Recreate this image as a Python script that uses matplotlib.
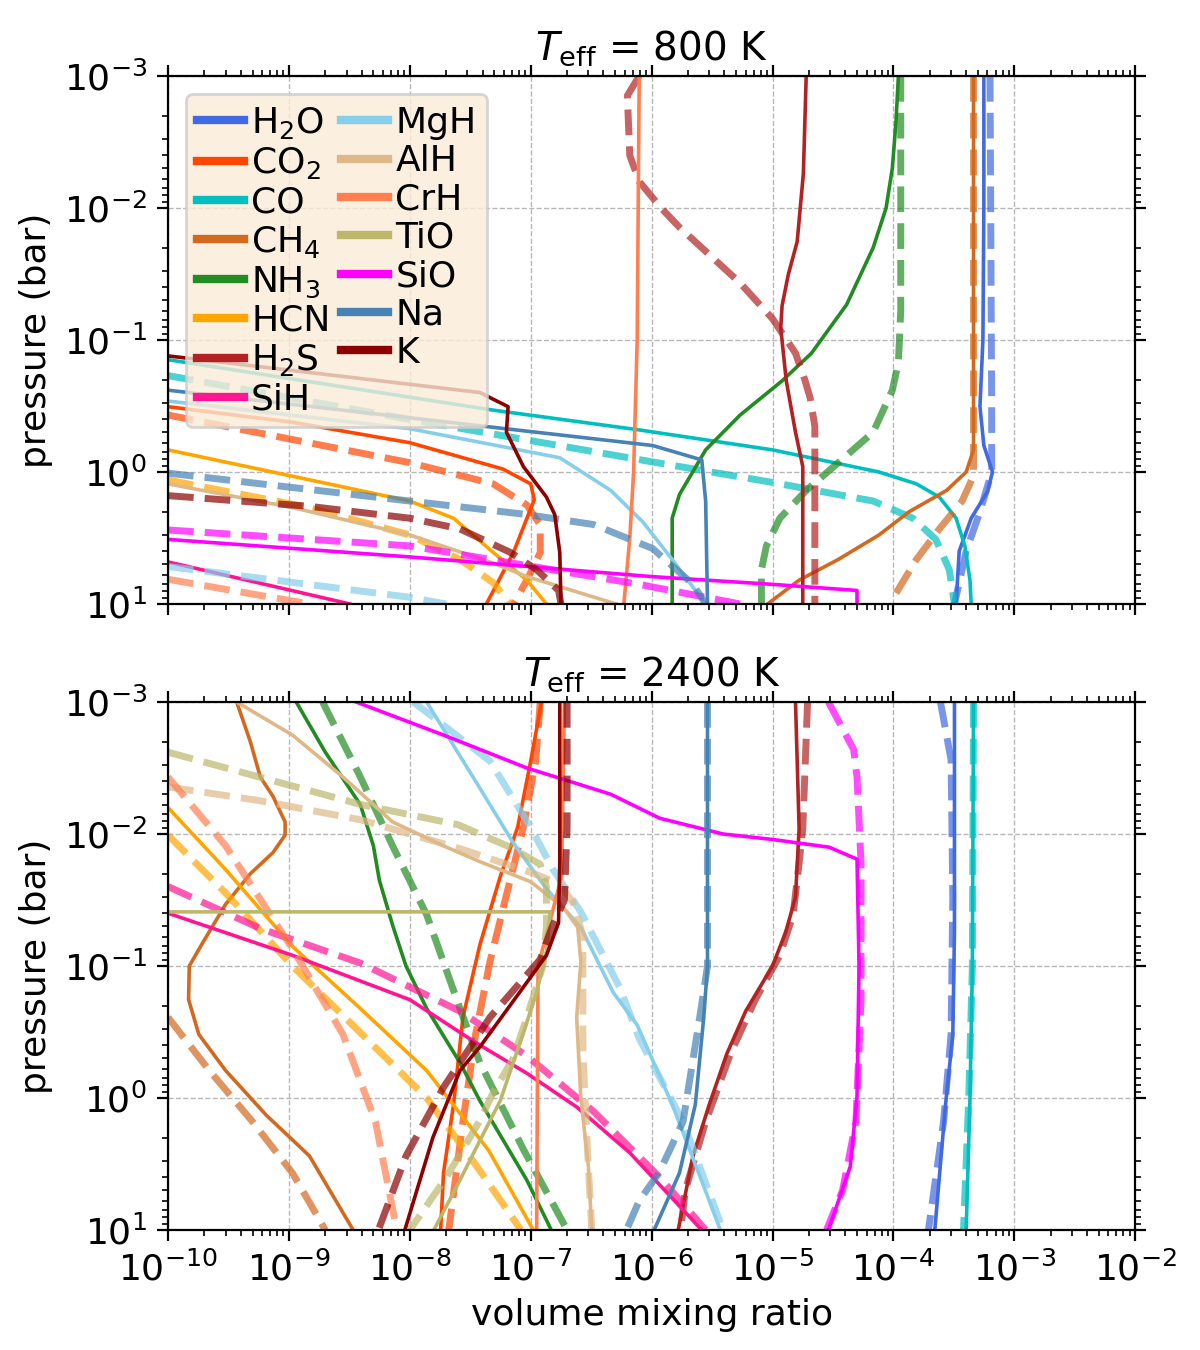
import numpy as np
import matplotlib.pyplot as plt
from matplotlib.lines import Line2D
from matplotlib.ticker import LogLocator, NullFormatter

names = ["H$_2$O", "CO$_2$", "CO", "CH$_4$", "NH$_3$", "HCN", "H$_2$S", "SiH",
         "MgH", "AlH", "CrH", "TiO", "SiO", "Na", "K"]
colors = ["royalblue", "orangered", "c", "chocolate", "forestgreen", "orange",
          "firebrick", "deeppink", "skyblue", "burlywood", "coral", "darkkhaki",
          "magenta", "steelblue", "darkred"]

# each curve: ([pressure in bar], [volume mixing ratio])
# ---- Teff = 800 K ----
h2o_800 = ([1e-3, 1e-2, 0.1, 0.32, 0.63, 1.0, 1.41, 2.24, 3.98, 10],
           [5.6e-4, 5.6e-4, 5.5e-4, 5.2e-4, 5.6e-4, 6.6e-4, 6.0e-4, 4.4e-4, 3.5e-4, 3.3e-4])
h2o_800_d = ([1e-3, 0.32, 1.0, 2.0, 3.98, 10],
             [6.3e-4, 6.5e-4, 6.5e-4, 5.2e-4, 4.0e-4, 3.2e-4])
co2_800 = ([0.32, 0.42, 0.60, 0.95, 1.23, 1.62, 4.07, 10],
           [1e-10, 1.07e-9, 1e-8, 5.9e-8, 1e-7, 1.07e-7, 7.2e-8, 4.3e-8])
co2_800_d = ([0.37, 0.85, 1.23, 1.78, 2.51, 4.07, 6.6, 10],
             [1e-10, 1e-8, 4.9e-8, 9.3e-8, 1.2e-7, 1.2e-7, 9.3e-8, 7.2e-8])
co_800 = ([0.141, 0.34, 0.48, 0.68, 1.0, 1.23, 1.55, 2.24, 3.63, 6.6, 10],
          [1e-10, 4.9e-8, 7.9e-7, 1e-5, 7.6e-5, 1.55e-4, 2.4e-4, 3.3e-4, 3.9e-4, 4.3e-4, 4.4e-4])
co_800_d = ([0.186, 0.40, 0.83, 1.20, 1.66, 2.24, 3.24, 5.5, 10],
            [1e-10, 1e-8, 9.5e-7, 1e-5, 6.8e-5, 1.45e-4, 2.24e-4, 2.9e-4, 3.2e-4])
ch4_800 = ([1e-3, 0.68, 1.0, 1.38, 2.0, 3.0, 4.6, 6.6, 10],
           [4.6e-4, 4.6e-4, 4.0e-4, 2.75e-4, 1.35e-4, 7.6e-5, 3.5e-5, 1.66e-5, 9.1e-6])
ch4_800_d = ([1e-3, 1.07, 1.66, 2.7, 4.6, 8.3, 10],
             [4.6e-4, 4.6e-4, 3.7e-4, 2.4e-4, 1.55e-4, 1.05e-4, 1e-4])
nh3_800 = ([1e-3, 2.24e-3, 5e-3, 1e-2, 2.0e-2, 5.4e-2, 0.126, 0.204, 0.37, 0.68, 1.48, 2.24, 10],
           [1.1e-4, 1.05e-4, 9.8e-5, 8.7e-5, 6.8e-5, 4.1e-5, 2.1e-5, 1.2e-5, 5.4e-6, 2.8e-6, 1.7e-6, 1.48e-6, 1.48e-6])
nh3_800_d = ([1e-3, 6.0e-2, 0.148, 0.24, 0.50, 0.85, 1.38, 2.24, 3.63, 5.5, 10],
             [1.15e-4, 1.15e-4, 1.1e-4, 9.8e-5, 6.8e-5, 3.5e-5, 1.9e-5, 1.15e-5, 8.9e-6, 8.1e-6, 8.1e-6])
hcn_800 = ([0.68, 1.66, 2.24, 4.07, 6.6, 10],
           [1e-10, 1e-8, 2.3e-8, 4.9e-8, 9.3e-8, 1.35e-7])
hcn_800_d = ([1.15, 1.86, 3.0, 4.6, 6.9, 10],
             [1e-10, 1.48e-9, 1e-8, 2.6e-8, 4.9e-8, 6.8e-8])
h2s_800 = ([1e-3, 5.5e-3, 1.8e-2, 3.2e-2, 5.5e-2, 8.1e-2, 0.204, 0.50, 0.91, 10],
           [1.9e-5, 1.8e-5, 1.6e-5, 1.35e-5, 1.2e-5, 1.17e-5, 1.3e-5, 1.55e-5, 1.78e-5, 1.78e-5])
h2s_800_d = ([1e-3, 1.41e-3, 4.0e-3, 6.3e-3, 1e-2, 1.4e-2, 2.0e-2, 3.7e-2, 6.9e-2, 0.126, 0.2, 0.275, 0.45, 10],
             [7.9e-7, 6.3e-7, 6.6e-7, 7.9e-7, 1.2e-6, 1.7e-6, 2.6e-6, 5.4e-6, 1e-5, 1.55e-5, 1.85e-5, 2.05e-5, 2.24e-5, 2.24e-5])
sih_800 = ([4.8, 10], [1e-10, 3.2e-9])
mgh_800 = ([0.29, 0.47, 0.78, 1.38, 2.4, 4.6, 10],
           [1e-10, 1e-8, 1.74e-7, 4.6e-7, 8.5e-7, 1.48e-6, 2.8e-6])
mgh_800_d = ([5.2, 8.9, 10], [1e-10, 1e-8, 2e-8])
alh_800 = ([1.23, 1.86, 3.0, 4.9, 6.2, 10],
           [1e-10, 1.07e-9, 1e-8, 4.9e-8, 9.3e-8, 5.1e-7])
crh_800 = ([1e-3, 0.1, 1.0, 3.16, 10],
           [7.9e-7, 7.6e-7, 7.1e-7, 6.6e-7, 5.9e-7])
crh_800_d = ([6.5, 10], [1e-10, 1.48e-9])
sio_800 = ([3.24, 4.4, 6.2, 7.1, 7.9, 10],
           [1e-10, 1e-8, 1e-6, 1e-5, 5.0e-5, 5.0e-5])
sio_800_d = ([2.75, 3.63, 7.1, 10],
             [1e-10, 1e-8, 7.9e-7, 5.4e-6])
na_800 = ([0.24, 0.63, 0.81, 1.66, 10],
          [1e-10, 1.02e-6, 2.6e-6, 2.8e-6, 2.9e-6])
na_800_d = ([1.02, 1.66, 2.1, 2.5, 3.8, 7.1, 10],
            [1e-10, 1e-8, 9.3e-8, 3.3e-7, 1.02e-6, 2.2e-6, 2.8e-6])
k_800 = ([0.132, 0.25, 0.32, 0.50, 0.91, 1.55, 2.1, 4.07, 10],
         [1e-10, 3.8e-8, 6.5e-8, 6.3e-8, 8.7e-8, 1.35e-7, 1.58e-7, 1.74e-7, 1.78e-7])
k_800_d = ([1.51, 1.82, 2.24, 2.7, 4.07, 5.5, 7.9, 10],
           [1e-10, 1.48e-9, 1e-8, 2.6e-8, 6.8e-8, 1.12e-7, 1.7e-7, 1.78e-7])

# ---- Teff = 2400 K ----
h2o_2400 = ([1e-3, 5.5e-2, 0.33, 1.12, 10],
            [3.2e-4, 3.2e-4, 3.1e-4, 2.7e-4, 2.2e-4])
h2o_2400_d = ([1e-3, 2.75e-3, 3.0e-2, 0.33, 1.51, 10],
              [2.45e-4, 3.0e-4, 3.1e-4, 3.0e-4, 2.6e-4, 1.95e-4])
co2_2400 = ([1e-3, 2.8e-3, 8.9e-3, 2.1e-2, 6.9e-2, 0.245, 1.12, 3.7, 10],
            [1.23e-7, 1e-7, 7.8e-8, 5.6e-8, 3.8e-8, 2.75e-8, 2.3e-8, 1.9e-8, 1.8e-8])
co2_2400_d = ([1e-3, 2.8e-3, 8.9e-3, 2.9e-2, 9.3e-2, 0.33, 1.51, 10],
              [1.2e-7, 1.1e-7, 8.7e-8, 6.3e-8, 4.6e-8, 3.5e-8, 2.75e-8, 2.1e-8])
co_2400 = ([1e-3, 0.1, 1.0, 10], [4.6e-4, 4.5e-4, 4.3e-4, 4.0e-4])
co_2400_d = ([1e-3, 0.1, 1.0, 10], [4.6e-4, 4.5e-4, 4.2e-4, 3.8e-4])
ch4_2400 = ([1e-3, 2.0e-3, 3.7e-3, 5.2e-3, 8.1e-3, 1.02e-2, 1.38e-2, 2.0e-2, 3.4e-2,
             6.6e-2, 0.1, 0.18, 0.33, 0.62, 1.35, 2.75, 10],
            [3.7e-10, 4.8e-10, 5.8e-10, 7.4e-10, 9.3e-10, 9.3e-10, 7.4e-10, 4.8e-10, 3.0e-10,
             1.95e-10, 1.5e-10, 1.48e-10, 1.8e-10, 3.0e-10, 6.5e-10, 1.48e-9, 3.4e-9])
ch4_2400_d = ([0.245, 0.62, 1.51, 3.7, 10],
              [1e-10, 2.2e-10, 5.0e-10, 1.07e-9, 2.0e-9])
nh3_2400 = ([1e-3, 2.4e-3, 6.0e-3, 1.23e-2, 2.24e-2, 4.9e-2, 0.1, 0.21, 0.54, 1.05, 4.2, 10],
            [1.15e-9, 2.0e-9, 3.9e-9, 5.0e-9, 5.6e-9, 7.2e-9, 9.3e-9, 1.38e-8, 2.6e-8, 3.8e-8, 9.3e-8, 1.48e-7])
nh3_2400_d = ([1e-3, 3.7e-3, 1.23e-2, 4.1e-2, 0.21, 0.54, 2.45, 10],
              [1.9e-9, 3.9e-9, 7.2e-9, 1.38e-8, 2.6e-8, 3.8e-8, 8.7e-8, 2.0e-7])
hcn_2400 = ([6.3e-3, 1.86e-2, 7.1e-2, 0.21, 0.62, 2.5, 10],
            [1e-10, 3.0e-10, 1.07e-9, 3.9e-9, 1.38e-8, 4.5e-8, 1.05e-7])
hcn_2400_d = ([1.02e-2, 2.8e-2, 0.1, 0.32, 1.0, 3.55, 10],
              [1e-10, 3.0e-10, 1.07e-9, 3.9e-9, 1.38e-8, 3.8e-8, 8.3e-8])
h2s_2400 = ([1e-3, 9.1e-3, 3.0e-2, 5.5e-2, 0.1, 0.22, 0.46, 1.12, 2.75, 10],
            [1.55e-5, 1.66e-5, 1.55e-5, 1.29e-5, 1e-5, 6.0e-6, 4.2e-6, 3.0e-6, 2.2e-6, 1.66e-6])
h2s_2400_d = ([1e-3, 9.1e-3, 1.66e-2, 4.1e-2, 8.3e-2, 0.18, 0.46, 1.51, 5.0, 10],
              [1.95e-5, 1.78e-5, 1.66e-5, 1.48e-5, 1.15e-5, 7.2e-6, 4.5e-6, 2.8e-6, 1.9e-6, 1.74e-6])
sih_2400 = ([3.98e-2, 8.3e-2, 0.18, 0.38, 0.65, 1.17, 2.6, 10],
            [1e-10, 1.07e-9, 1e-8, 3.5e-8, 9.3e-8, 2.4e-7, 6.6e-7, 2.6e-6])
sih_2400_d = ([2.5e-2, 5.2e-2, 9.5e-2, 0.22, 0.48, 1.26, 4.0, 10],
              [1e-10, 5.8e-10, 3.9e-9, 2.6e-8, 9.3e-8, 3.3e-7, 1.17e-6, 2.8e-6])
mgh_2400 = ([1e-3, 4.5e-3, 1.15e-2, 2.6e-2, 5.1e-2, 0.158, 0.28, 1.12, 3.7, 10],
            [1.38e-8, 3.8e-8, 7.1e-8, 1.35e-7, 2.6e-7, 4.8e-7, 7.6e-7, 1.48e-6, 2.45e-6, 3.7e-6])
mgh_2400_d = ([1e-3, 2.8e-3, 8.9e-3, 1.82e-2, 3.9e-2, 0.148, 0.355, 1.51, 10],
              [1.07e-8, 4.6e-8, 1e-7, 1.51e-7, 2.6e-7, 5.5e-7, 7.9e-7, 1.82e-6, 3.9e-6])
alh_2400 = ([1e-3, 1.78e-3, 3.7e-3, 8.1e-3, 1.23e-2, 1.62e-2, 2.3e-2, 3.6e-2, 5.1e-2,
             9.3e-2, 0.245, 1.0, 3.3, 10],
            [3.7e-10, 1.07e-9, 2.8e-9, 7.2e-9, 1.9e-8, 3.8e-8, 1e-7, 1.86e-7, 2.45e-7,
             2.6e-7, 2.4e-7, 2.6e-7, 3.0e-7, 3.2e-7])
alh_2400_d = ([4.4e-3, 5.6e-3, 7.8e-3, 1.29e-2, 1.95e-2, 2.4e-2, 3.3e-2, 5.9e-2, 0.132, 0.44, 2.5, 10],
              [1e-10, 5.8e-10, 3.9e-9, 2.6e-8, 1e-7, 1.74e-7, 2.24e-7, 2.7e-7, 2.7e-7, 2.7e-7, 2.95e-7, 3.2e-7])
crh_2400 = ([1e-3, 2.1e-2, 5.0e-2, 0.1, 10],
            [1.9e-7, 1.8e-7, 1.41e-7, 1.15e-7, 1.12e-7])
crh_2400_d = ([3.7e-3, 1.23e-2, 7.4e-2, 0.33, 1.51, 10],
              [1e-10, 3.0e-10, 1.07e-9, 2.8e-9, 5.2e-9, 7.8e-9])
tio_2400 = ([0.0389, 0.0389, 0.079, 0.158, 0.32, 1.05, 2.1, 4.5, 10],
            [1e-13, 1.45e-7, 1.35e-7, 1.12e-7, 8.7e-8, 5.6e-8, 3.8e-8, 2.5e-8, 1.58e-8])
tio_2400_d = ([2.4e-3, 3.8e-3, 6.0e-3, 8.5e-3, 1.26e-2, 1.7e-2, 2.5e-2, 5.0e-2, 0.1,
               0.245, 0.51, 0.91, 1.48, 4.0, 10],
              [1e-10, 6.3e-10, 4.0e-9, 2.5e-8, 6.8e-8, 1.2e-7, 1.35e-7, 1.35e-7, 1.26e-7,
               9.3e-8, 7.1e-8, 4.9e-8, 3.8e-8, 2.0e-8, 1e-8])
sio_2400 = ([1e-3, 1.78e-3, 3.16e-3, 5.0e-3, 7.6e-3, 1e-2, 1.1e-2, 1.26e-2, 1.55e-2, 0.1, 0.98, 3.3, 10],
            [3.6e-9, 1.9e-8, 9.3e-8, 4.6e-7, 1.17e-6, 3.9e-6, 1e-5, 2.95e-5, 5.0e-5, 5.2e-5, 5.0e-5, 4.4e-5, 2.9e-5])
sio_2400_d = ([1e-3, 2.3e-3, 3.7e-3, 1.66e-2, 0.18, 1.51, 5.0, 10],
              [2.9e-5, 4.7e-5, 5.0e-5, 5.4e-5, 5.4e-5, 4.9e-5, 3.8e-5, 2.8e-5])
na_2400 = ([1e-3, 0.1, 0.245, 1.12, 3.7, 10],
           [2.9e-6, 2.9e-6, 2.7e-6, 2.3e-6, 1.7e-6, 1.05e-6])
na_2400_d = ([1e-3, 0.1, 0.245, 1.51, 3.7, 6.0, 10],
             [2.9e-6, 2.9e-6, 2.5e-6, 1.82e-6, 1.15e-6, 7.9e-7, 6.2e-7])
k_2400 = ([1e-3, 1.62e-2, 4.7e-2, 8.3e-2, 0.166, 0.41, 0.62, 2.0, 10],
          [1.74e-7, 1.74e-7, 1.7e-7, 1.35e-7, 7.8e-8, 3.8e-8, 2.6e-8, 1.55e-8, 9.1e-9])
k_2400_d = ([1e-3, 8.9e-3, 3.16e-2, 5.1e-2, 8.9e-2, 0.245, 0.83, 2.75, 10],
            [2.0e-7, 2.0e-7, 1.9e-7, 1.5e-7, 1.2e-7, 4.6e-8, 1.9e-8, 9.3e-9, 5.5e-9])

# (solid, dashed) per species, same order as names
curves_800 = [(h2o_800, h2o_800_d), (co2_800, co2_800_d), (co_800, co_800_d),
              (ch4_800, ch4_800_d), (nh3_800, nh3_800_d), (hcn_800, hcn_800_d),
              (h2s_800, h2s_800_d), (sih_800, None), (mgh_800, mgh_800_d),
              (alh_800, None), (crh_800, crh_800_d), (None, None),
              (sio_800, sio_800_d), (na_800, na_800_d), (k_800, k_800_d)]
curves_2400 = [(h2o_2400, h2o_2400_d), (co2_2400, co2_2400_d), (co_2400, co_2400_d),
               (ch4_2400, ch4_2400_d), (nh3_2400, nh3_2400_d), (hcn_2400, hcn_2400_d),
               (h2s_2400, h2s_2400_d), (sih_2400, sih_2400_d), (mgh_2400, mgh_2400_d),
               (alh_2400, alh_2400_d), (crh_2400, crh_2400_d), (tio_2400, tio_2400_d),
               (sio_2400, sio_2400_d), (na_2400, na_2400_d), (k_2400, k_2400_d)]

fs = 13
fig = plt.figure(figsize=(6, 6.75), dpi=200)
ax1 = fig.add_axes([0.14, 0.5526, 0.806, 0.3911])
ax2 = fig.add_axes([0.14, 0.0889, 0.806, 0.3911])

for ax, curves, teff in [(ax1, curves_800, 800), (ax2, curves_2400, 2400)]:
    for (solid, dashed), color in zip(curves, colors):
        if solid is not None:
            ax.plot(solid[1], solid[0], color=color, lw=1.3)
        if dashed is not None:
            ax.plot(dashed[1], dashed[0], color=color, lw=2.5, ls="--", alpha=0.7)
    ax.set_xscale("log")
    ax.set_yscale("log")
    ax.set_xlim(1e-10, 1e-2)
    ax.set_ylim(10, 1e-3)
    for axis in (ax.xaxis, ax.yaxis):
        axis.set_major_locator(LogLocator(base=10, numticks=20))
        axis.set_minor_locator(LogLocator(base=10, subs=np.arange(2, 10), numticks=100))
        axis.set_minor_formatter(NullFormatter())
    ax.tick_params(which="both", top=True, right=True, labelsize=fs)
    ax.tick_params(which="major", length=4)
    ax.tick_params(which="minor", length=2.3)
    ax.grid(True, which="major", ls="--", lw=0.5, color="0.72")
    ax.set_ylabel("pressure (bar)", fontsize=fs)
    ax.set_title(r"$T_{\rm eff}$ = %d K" % teff, fontsize=fs + 1)

ax1.tick_params(labelbottom=False)
ax2.set_xlabel("volume mixing ratio", fontsize=fs)

handles = [Line2D([0], [0], color=c, lw=3, label=n) for n, c in zip(names, colors)]
ax1.legend(handles=handles, loc="upper left", ncol=2, fontsize=fs,
           facecolor="antiquewhite", handlelength=1.3, handletextpad=0.2,
           columnspacing=0.3, labelspacing=0.12, borderpad=0.3)

plt.savefig("out.png", dpi=200)
